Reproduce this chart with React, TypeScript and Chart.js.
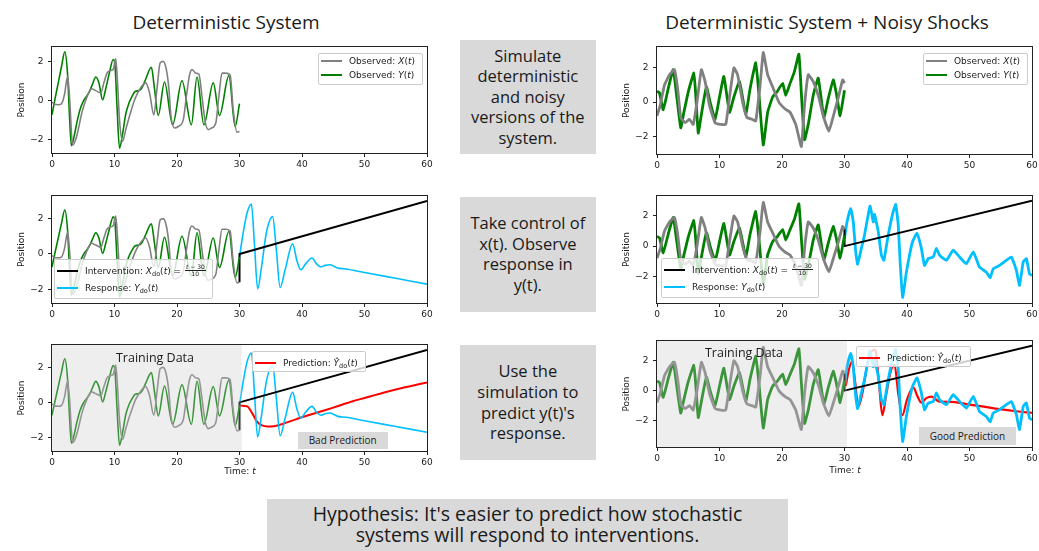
import React, { useEffect, useRef } from 'react';
import { Chart, registerables } from 'chart.js';
Chart.register(...registerables);

// ---------- data ----------
const X_TICKS = [0, 10, 20, 30, 40, 50, 60];
const Y_TICKS = [-2, 0, 2];

// Deterministic system
const DET_X_T = [0,0.5,1,1.5,2,2.5,2.8,3.3,3.8,4.2,4.8,5.5,6.3,7,7.8,8.3,8.8,9.3,9.8,10.2,10.5,10.8,11.3,11.8,12.5,13.3,14.3,15,15.6,16.3,16.8,17.3,17.8,18.3,18.7,19,19.6,20.2,21,21.5,22,22.4,23,23.5,24,24.5,25,25.5,26.2,26.7,27.2,27.8,28.5,29,29.6,30];
const DET_X = [-0.1,-0.2,-0.22,-0.18,0.3,1.24,0.2,-2.3,-2.0,-1.5,-0.6,0.1,0.6,0.5,0.38,0.9,1.4,1.53,1.6,2.14,0.8,-1.0,-2.1,-1.5,-0.7,0.1,0.7,0.9,0.4,-0.74,0.6,1.92,2.0,1.58,0.6,-0.7,-1.42,-1.34,-1.0,0.2,1.3,1.58,1.4,1.35,0.2,-1.08,-1.5,-1.42,-1.17,0.2,1.4,1.4,1.3,-0.5,-1.63,-1.6];
const DET_Y_T = [0,0.5,1,1.5,2.05,2.5,2.8,3.1,3.5,4,4.5,5,5.5,6,6.5,7,7.5,8.1,8.6,9.1,9.8,10.1,10.4,10.8,11.3,11.8,12.3,12.8,13.3,13.9,14.4,15,15.9,16.4,17,18,19.3,20.8,22.3,23.2,24.3,25.8,26.8,28.3,29.3,30];
const DET_Y = [-0.74,0.1,0.9,1.7,2.49,1.3,-0.8,-2.33,-1.9,-1.1,-0.45,-0.05,0.2,0.45,0.85,1.2,0.9,0.03,0.6,1.3,2.1,1.7,-0.3,-2.45,-1.7,-0.7,-0.15,0.2,0.46,0.5,0.65,1.1,1.7,0.6,-0.77,0.94,-1.25,1.0,-1.25,1.2,-1.25,0.9,-0.77,1.27,-1.34,-0.17];
const INT_T = [30, 30, 60];
const INT_DET = [-1.6, 0, 3];
const RESP_T = [30,30.5,31.2,31.9,32.4,32.9,33.5,34.3,35.3,35.9,36.5,37.3,38.5,39.2,39.8,40.6,41.6,42.3,43,43.7,44.5,45.7,47,50,55,60];
const RESP = [-0.17,1.0,2.3,2.82,0.5,-1.98,-0.8,1.2,2.11,0.2,-1.9,-0.9,0.57,-0.4,-0.9,-0.55,-0.23,-0.55,-0.74,-0.65,-0.61,-0.8,-0.85,-1.05,-1.38,-1.71];
const PRED_T = [30,30.5,31.2,32,32.8,33.6,34.5,35.5,37,39,41,43,45,48,50,53,56,60];
const PRED = [-0.17,-0.2,-0.22,-0.6,-1.1,-1.32,-1.38,-1.36,-1.22,-0.97,-0.74,-0.52,-0.3,0.05,0.25,0.55,0.82,1.14];

// Deterministic system + noisy shocks
const NX_T = [0,0.5,1.2,2.0,2.8,3.3,3.8,4.5,5.2,5.8,6.4,7.1,7.7,8.4,9.3,10.2,11.0,11.6,12.3,12.9,13.7,14.4,15.2,15.8,16.5,17.0,17.7,18.6,19.5,20.5,21.3,22.2,23.1,23.6,24.2,25.0,25.8,26.6,27.5,28.3,29.1,29.7,30];
const NX = [-0.8,-0.2,1.0,1.6,1.9,0.8,-0.9,-1.2,-1.0,-1.3,0.0,1.9,1.2,-0.2,-1.2,-1.3,-1.3,0.3,2.0,1.6,0.0,-0.9,-1.0,-1.1,1.0,2.9,1.6,0.8,0.0,-0.4,-0.6,-1.3,-2.6,-0.2,1.6,1.2,0.4,-0.8,-1.7,-0.7,0.4,1.3,1.1];
const NY_T = [0,0.4,1.0,1.8,2.6,3.1,3.8,4.3,5.0,5.9,6.2,6.6,7.2,7.9,8.5,9.3,10.0,10.7,11.6,12.3,13.2,14.2,14.9,15.8,16.3,17.0,17.7,18.5,19.2,20.1,20.6,21.2,22.0,22.7,23.1,23.6,24.2,25.0,25.8,26.7,27.4,28.2,28.7,29.3,30];
const NY = [0.63,0.55,-0.45,0.8,1.9,0.5,-1.5,-0.6,0.6,1.7,0.4,-1.8,-0.5,0.9,0.0,-1.0,0.3,1.5,-0.6,0.3,1.2,-0.7,0.8,2.3,0.5,-2.5,-0.6,0.3,0.6,1.1,0.4,1.0,1.8,2.8,0.5,-2.2,-1.3,0.4,1.4,-0.9,0.2,1.3,0.5,-0.8,0.7];
const INT_NOISY = [1.1, 0, 3];
const NRESP_T = [30,30.4,31.0,31.4,31.8,32.1,32.7,33.2,33.8,34.1,34.6,34.8,35.4,35.9,36.3,37.0,37.8,38.2,38.6,38.9,39.3,39.9,40.4,40.9,41.6,42.3,42.8,43.4,44.2,44.7,45.2,46.3,47.4,48.4,49.5,50.6,51.6,52.7,53.3,53.8,54.8,55.9,56.7,57.5,58.0,58.6,59.1,59.6,60];
const NRESP = [0.5,1.6,2.5,1.6,-0.4,-1.2,-0.15,0.74,2.1,2.65,1.6,2.1,0.96,-0.6,-0.94,0.74,2.3,2.76,1.4,-1.05,-3.4,-1.73,-0.6,0.3,0.85,-0.15,-1.28,-0.83,-0.72,-0.15,-0.6,-0.94,-0.27,-0.72,-1.17,-0.38,-1.39,-1.73,-2.1,-1.5,-1.28,-0.94,-0.72,-1.6,-2.6,-1.05,-0.83,-1.84,-1.95];
const NPRED_T = [30.2,30.7,31.2,31.7,32.2,32.8,33.6,34.3,34.9,35.5,36.05,36.7,37.4,38.0,38.6,39.25,40.0,41.0,41.7,42.3,43.1,43.9,45.2,47.0,49.5,52,54.8,57.5,60];
const NPRED = [0.3,1.4,1.95,0.6,-1.1,-0.3,1.6,2.6,2.74,0.6,-1.64,-0.2,1.3,1.73,-0.2,-1.64,-0.6,0.22,-0.4,-0.8,-0.5,-0.4,-0.74,-0.75,-0.9,-1.05,-1.24,-1.38,-1.48];

// ---------- styling ----------
const GRAY = '#808080';
const GREEN = '#008000';
const CYAN = '#00bfff';
const RED = '#ff0000';
const BLACK = '#000000';
const TEXT = '#1a1a1a';
const BOX = '#d9d9d9';
const AX_FONT = '"DejaVu Sans", sans-serif';
const TXT_FONT = '"Open Sans", "Noto Sans", sans-serif';

type Series = { ts: number[]; vs: number[]; color: string; width: number; smooth?: boolean; tension?: number };
type Area = { l: number; r: number; t: number; b: number };

const YW = 50, XH = 22, PT = 16, PR = 14;

const framePlugin = {
  id: 'frame',
  afterDatasetsDraw(chart: any, _args: any, opts: any) {
    const { ctx, chartArea: a, scales } = chart;
    ctx.save();
    if (opts && opts.shadeTo != null) {
      const x0 = scales.x.getPixelForValue(0);
      const x1 = scales.x.getPixelForValue(opts.shadeTo);
      ctx.fillStyle = 'rgba(200,200,200,0.3)';
      ctx.fillRect(x0, a.top, x1 - x0, a.bottom - a.top);
    }
    ctx.strokeStyle = '#222';
    ctx.lineWidth = 1;
    const L = Math.round(a.left) - 0.5, T = Math.round(a.top) - 0.5;
    const R = Math.round(a.right) + 0.5, B = Math.round(a.bottom) + 0.5;
    ctx.strokeRect(L, T, R - L, B - T);
    ctx.restore();
  },
};

function fmt(v: number) {
  return v < 0 ? '\u2212' + Math.abs(v) : String(v);
}

function Panel({ area, yMin, yMax, series, shadeTo }: { area: Area; yMin: number; yMax: number; series: Series[]; shadeTo?: number }) {
  const ref = useRef<HTMLCanvasElement>(null);
  const w = area.r - area.l + YW + PR;
  const h = area.b - area.t + PT + XH;
  useEffect(() => {
    const grid = { drawOnChartArea: false, drawTicks: true, tickLength: 4, color: '#222', lineWidth: 1 };
    const chart = new Chart(ref.current as HTMLCanvasElement, {
      type: 'line',
      data: {
        datasets: series.map((s) => ({
          data: s.ts.map((t, i) => ({ x: t, y: s.vs[i] })),
          borderColor: s.color,
          borderWidth: s.width,
          pointRadius: 0,
          fill: false,
          tension: s.tension || 0,
          cubicInterpolationMode: s.smooth ? 'monotone' : 'default',
          borderJoinStyle: 'round',
        })) as any,
      },
      options: {
        animation: false,
        responsive: false,
        maintainAspectRatio: false,
        layout: { padding: { top: PT, right: PR, left: 0, bottom: 0 } },
        plugins: { legend: { display: false }, tooltip: { enabled: false }, frame: { shadeTo } } as any,
        scales: {
          x: {
            type: 'linear',
            min: 0,
            max: 60,
            afterBuildTicks: (s: any) => { s.ticks = X_TICKS.map((v) => ({ value: v })); },
            ticks: { font: { family: AX_FONT, size: 9 }, color: TEXT, padding: 2, maxRotation: 0, autoSkip: false },
            grid,
            border: { display: false },
            afterFit: (s: any) => { s.height = XH; },
          },
          y: {
            type: 'linear',
            min: yMin,
            max: yMax,
            afterBuildTicks: (s: any) => { s.ticks = Y_TICKS.map((v) => ({ value: v })); },
            ticks: { font: { family: AX_FONT, size: 9 }, color: TEXT, padding: 4.5, callback: (v: any) => fmt(Number(v)) },
            grid,
            border: { display: false },
            title: { display: true, text: 'Position', font: { family: AX_FONT, size: 9 }, color: TEXT, padding: { top: 14.5, bottom: 0 } },
            afterFit: (s: any) => { s.width = YW; },
          },
        },
      } as any,
      plugins: [framePlugin],
    });
    return () => chart.destroy();
  }, []);
  return (
    <canvas
      ref={ref}
      width={w}
      height={h}
      style={{ position: 'absolute', left: area.l - YW, top: area.t - PT, width: w, height: h }}
    />
  );
}

const Sub = ({ children }: { children: React.ReactNode }) => (
  <span style={{ fontSize: 6.5, position: 'relative', top: 2 }}>{children}</span>
);
const Frac = () => (
  <span style={{ display: 'inline-block', verticalAlign: 'middle', textAlign: 'center', fontSize: 6, lineHeight: '6.5px', margin: '0 1px', position: 'relative', top: -1 }}>
    <span style={{ display: 'block', borderBottom: '0.7px solid #222', padding: '0 1px' }}><i>t</i> − 30</span>
    <span style={{ display: 'block' }}>10</span>
  </span>
);

type Row = { cy: number; color: string; lw: number; label: React.ReactNode };
function Legend({ x, y, w, h, rows }: { x: number; y: number; w: number; h: number; rows: Row[] }) {
  return (
    <div style={{ position: 'absolute', left: Math.round(x), top: Math.round(y), width: Math.round(w), height: Math.round(h), background: 'rgba(255,255,255,0.8)', border: '1px solid #cccccc', borderRadius: 2, boxSizing: 'border-box' }}>
      {rows.map((r, i) => (
        <React.Fragment key={i}>
          <div style={{ position: 'absolute', left: 2, top: Math.round(r.cy - 1 - r.lw / 2), width: 21, height: r.lw, background: r.color }} />
          <div style={{ position: 'absolute', left: 30, top: Math.round(r.cy - 1 - 8), height: 16, lineHeight: '16px', whiteSpace: 'nowrap', fontFamily: AX_FONT, fontSize: 9, color: TEXT }}>
            {r.label}
          </div>
        </React.Fragment>
      ))}
    </div>
  );
}

function TextBox({ x, y, w, h, size, lh, children }: { x: number; y: number; w: number; h: number; size: number; lh: number; children: React.ReactNode }) {
  return (
    <div style={{ position: 'absolute', left: x, top: y, width: w, height: h, background: BOX, display: 'flex', alignItems: 'center', justifyContent: 'center', textAlign: 'center', fontFamily: TXT_FONT, fontSize: size, lineHeight: lh + 'px', color: TEXT }}>
      <div>{children}</div>
    </div>
  );
}

function Label({ cx, cy, size, font, children }: { cx: number; cy: number; size: number; font?: string; children: React.ReactNode }) {
  return (
    <div style={{ position: 'absolute', left: cx, top: cy, transform: 'translate(-50%, -50%)', whiteSpace: 'nowrap', fontFamily: font || TXT_FONT, fontSize: size, color: TEXT, lineHeight: 1.2 }}>
      {children}
    </div>
  );
}

const obsX = <span>Observed: <i>X</i>(<i>t</i>)</span>;
const obsY = <span>Observed: <i>Y</i>(<i>t</i>)</span>;
const intLabel = <span>Intervention: <i>X</i><Sub>do</Sub>(<i>t</i>) = <Frac /></span>;
const respLabel = <span>Response: <i>Y</i><Sub>do</Sub>(<i>t</i>)</span>;
const predLabel = <span>Prediction: <i>Ŷ</i><Sub>do</Sub>(<i>t</i>)</span>;

export default function App() {
  const detX: Series = { ts: DET_X_T, vs: DET_X, color: GRAY, width: 1.6, smooth: true };
  const detY: Series = { ts: DET_Y_T, vs: DET_Y, color: GREEN, width: 1.6, smooth: true };
  const intD: Series = { ts: INT_T, vs: INT_DET, color: BLACK, width: 2 };
  const resp: Series = { ts: RESP_T, vs: RESP, color: CYAN, width: 1.6, smooth: true };
  const pred: Series = { ts: PRED_T, vs: PRED, color: RED, width: 2, smooth: true };
  const nX: Series = { ts: NX_T, vs: NX, color: GRAY, width: 2.8, tension: 0.12 };
  const nY: Series = { ts: NY_T, vs: NY, color: GREEN, width: 2.8, tension: 0.12 };
  const intN: Series = { ts: INT_T, vs: INT_NOISY, color: BLACK, width: 2 };
  const nResp: Series = { ts: NRESP_T, vs: NRESP, color: CYAN, width: 2.8, tension: 0.12 };
  const nPred: Series = { ts: NPRED_T, vs: NPRED, color: RED, width: 2.2, smooth: true };

  return (
    <div style={{ position: 'absolute', left: 0, top: 0, width: 1039, height: 551, overflow: 'hidden', background: '#fff' }}>
      <Label cx={226} cy={22} size={19}>Deterministic System</Label>
      <Label cx={827} cy={22} size={19}>Deterministic System + Noisy Shocks</Label>

      <Panel area={{ l: 52, r: 427, t: 47, b: 153 }} yMin={-2.7} yMax={2.74} series={[detX, detY]} />
      <Panel area={{ l: 52, r: 427, t: 196, b: 303 }} yMin={-2.78} yMax={3.28} series={[detX, detY, intD, resp]} />
      <Panel area={{ l: 52, r: 427, t: 345, b: 451 }} yMin={-2.78} yMax={3.28} series={[detX, detY, intD, resp, pred]} shadeTo={30.35} />
      <Panel area={{ l: 657, r: 1032, t: 47, b: 154 }} yMin={-3.03} yMax={3.22} series={[nX, nY]} />
      <Panel area={{ l: 657, r: 1032, t: 196, b: 303 }} yMin={-3.77} yMax={3.32} series={[nX, nY, intN, nResp]} />
      <Panel area={{ l: 657, r: 1032, t: 341, b: 447 }} yMin={-3.77} yMax={3.32} series={[nX, nY, intN, nResp, nPred]} shadeTo={30.4} />

      <Legend x={318} y={53} w={105} h={32} rows={[{ cy: 8, color: GRAY, lw: 2, label: obsX }, { cy: 22, color: GREEN, lw: 2, label: obsY }]} />
      <Legend x={923} y={53} w={105} h={32} rows={[{ cy: 8, color: GRAY, lw: 2, label: obsX }, { cy: 22, color: GREEN, lw: 2, label: obsY }]} />
      <Legend x={54} y={259} w={159} h={40} rows={[{ cy: 12, color: BLACK, lw: 2, label: intLabel }, { cy: 29, color: CYAN, lw: 2, label: respLabel }]} />
      <Legend x={661} y={258} w={158} h={40} rows={[{ cy: 12, color: BLACK, lw: 2, label: intLabel }, { cy: 29, color: CYAN, lw: 2, label: respLabel }]} />
      <Legend x={252} y={351} w={114} h={21} rows={[{ cy: 12, color: RED, lw: 2, label: predLabel }]} />
      <Legend x={856} y={346} w={115} h={21} rows={[{ cy: 12, color: RED, lw: 2, label: predLabel }]} />

      <Label cx={155} cy={356.7} size={12.5}>Training Data</Label>
      <Label cx={744} cy={352} size={12.5}>Training Data</Label>

      <TextBox x={297.7} y={431.7} w={90} h={17.6} size={10} lh={12}>Bad Prediction</TextBox>
      <TextBox x={919} y={427} w={97} h={17.7} size={10} lh={12}>Good Prediction</TextBox>

      <Label cx={240} cy={471} size={9} font={AX_FONT}>Time: <i>t</i></Label>
      <Label cx={845} cy={470} size={9} font={AX_FONT}>Time: <i>t</i></Label>

      <TextBox x={460} y={40} w={135.7} h={114} size={16.5} lh={20.6}>Simulate<br />deterministic<br />and noisy<br />versions of the<br />system.</TextBox>
      <TextBox x={460} y={197.3} w={135.7} h={114.4} size={16.5} lh={20.6}>Take control of<br />x(t). Observe<br />response in<br />y(t).</TextBox>
      <TextBox x={460} y={345.3} w={135.7} h={114.7} size={16.5} lh={20.6}>Use the<br />simulation to<br />predict y(t)'s<br />response.</TextBox>

      <div style={{ position: 'absolute', left: 267, top: 499, width: 521, height: 60, background: BOX, fontFamily: TXT_FONT, fontSize: 19.5, lineHeight: '21px', color: TEXT, textAlign: 'center', paddingTop: 4, boxSizing: 'border-box' }}>
        Hypothesis: It's easier to predict how stochastic<br />systems will respond to interventions.
      </div>
    </div>
  );
}
